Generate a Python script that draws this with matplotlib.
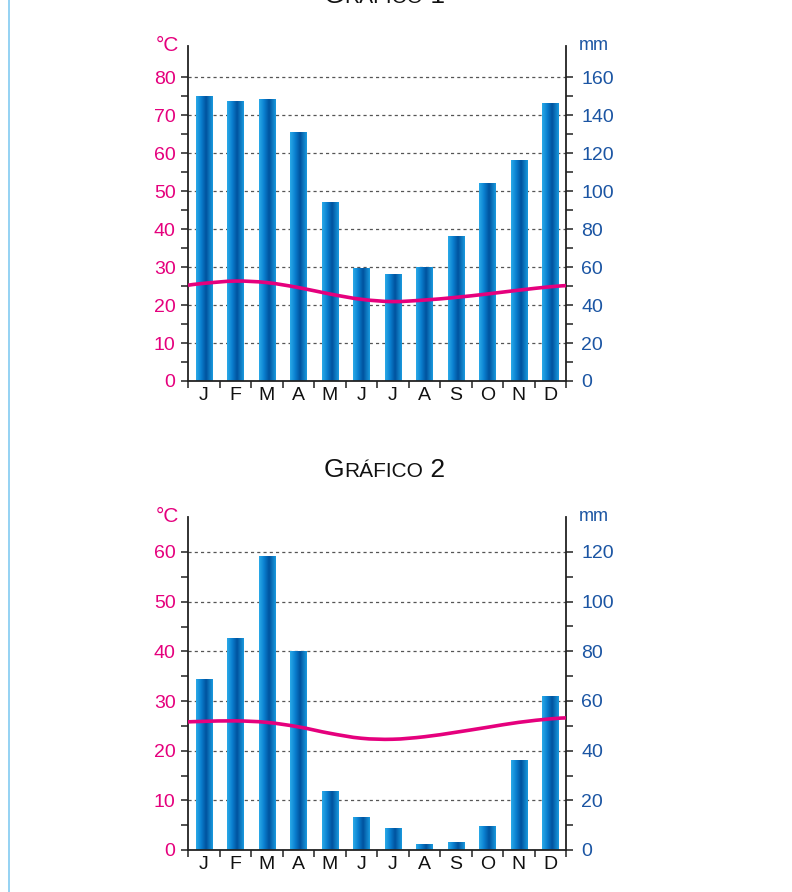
import numpy as np
import matplotlib.pyplot as plt
from matplotlib.path import Path
from matplotlib.patches import PathPatch
from matplotlib.colors import LinearSegmentedColormap
from matplotlib.lines import Line2D
from matplotlib.ticker import FixedLocator

plt.rcParams['font.family'] = ['Liberation Sans', 'DejaVu Sans']

# meses do ano
meses = ['J', 'F', 'M', 'A', 'M', 'J', 'J', 'A', 'S', 'O', 'N', 'D']

# Gráfico 1: precipitação (mm) e temperatura (°C)
prec1 = [150, 147, 148, 131, 94, 59, 56, 60, 76, 104, 116, 146]
temp1 = [25.7, 26.3, 25.9, 24.6, 22.9, 21.5, 20.9, 21.3, 22.0, 22.9, 23.9, 24.8]
temp1_bordas = [25.2, 25.1]   # valor da curva no início e no fim do eixo

# Gráfico 2
prec2 = [68.5, 85, 118, 80, 23.4, 12.9, 8.5, 2.4, 3.2, 9.3, 36.2, 62]
temp2 = [25.9, 26.0, 25.7, 24.8, 23.5, 22.5, 22.3, 22.8, 23.7, 24.7, 25.7, 26.4]
temp2_bordas = [25.8, 26.6]

MAGENTA = '#e5007d'
AZUL = '#1b55a3'
W, H = 792, 892

fig = plt.figure(figsize=(W / 100, H / 100), dpi=100)

# degradê das barras (efeito cilindro)
cm_barra = LinearSegmentedColormap.from_list(
    'barra', [(0, '#2aaae8'), (0.3, '#0a80d0'), (0.6, '#00529e'), (1, '#1a9ade')])
grad = np.linspace(0, 1, 64).reshape(1, -1)


def curva(ax, xs, ys, **kw):
    # curva suave (Catmull-Rom -> Bezier) passando pelos pontos lidos
    pts = np.column_stack([xs, ys])
    verts = [pts[0]]
    codes = [Path.MOVETO]
    n = len(pts)
    for i in range(n - 1):
        p0 = pts[i - 1] if i > 0 else pts[i]
        p1 = pts[i]
        p2 = pts[i + 1]
        p3 = pts[i + 2] if i + 2 < n else pts[i + 1]
        verts += [p1 + (p2 - p0) / 6, p2 - (p3 - p1) / 6, p2]
        codes += [Path.CURVE4] * 3
    ax.add_patch(PathPatch(Path(verts, codes), fill=False, **kw))


def climograma(y_base, y_topo, px_por_grau, prec, temp, bordas, tmax):
    rect = [188 / W, 1 - y_base / H, 378 / W, (y_base - y_topo) / H]
    ax = fig.add_axes(rect)
    ax2 = ax.twinx()
    ax.set_zorder(2)
    ax.patch.set_visible(False)

    topo = (y_base - y_topo) / px_por_grau
    x = np.arange(12)

    # barras de precipitação no eixo da direita
    largura = 0.51
    barras = ax2.bar(x, prec, width=largura, color='#0a78c4', zorder=2)
    for b in barras:
        x0, h = b.get_x(), b.get_height()
        ax2.imshow(grad, extent=(x0, x0 + largura, 0, h), aspect='auto',
                   cmap=cm_barra, interpolation='bilinear', zorder=3)

    # linha de temperatura no eixo da esquerda
    xs = [-0.5] + list(x) + [11.5]
    ys = [bordas[0]] + list(temp) + [bordas[1]]
    curva(ax, xs, ys, edgecolor=MAGENTA, lw=2.6, capstyle='butt', zorder=4)

    ax.set_xlim(-0.5, 11.5)
    ax.set_ylim(0, topo)
    ax2.set_ylim(0, 2 * topo)

    # eixo esquerdo (°C)
    ax.yaxis.set_major_locator(FixedLocator(np.arange(0, tmax + 1, 10)))
    ax.yaxis.set_minor_locator(FixedLocator(np.arange(5, tmax, 10)))
    ax.tick_params(axis='y', which='both', direction='out', length=5, width=1.1,
                   color='#222222', labelcolor=MAGENTA, labelsize=14, pad=4)

    # eixo direito (mm)
    ax2.yaxis.set_major_locator(FixedLocator(np.arange(0, 2 * tmax + 1, 20)))
    ax2.yaxis.set_minor_locator(FixedLocator(np.arange(10, 2 * tmax, 20)))
    ax2.tick_params(axis='y', which='both', direction='out', length=5, width=1.1,
                    color='#222222', labelcolor=AZUL, labelsize=14, pad=6)

    # meses
    ax.set_xticks(x)
    ax.set_xticklabels(meses)
    ax.set_xticks(np.arange(-0.5, 12, 1), minor=True)
    ax.tick_params(axis='x', which='major', length=0, labelsize=14, pad=4,
                   labelcolor='#111111')
    ax.tick_params(axis='x', which='minor', direction='out', length=5, width=1.1,
                   color='#222222')

    # linhas de grade tracejadas
    ax2.set_axisbelow(True)
    ax2.yaxis.grid(True, which='major', linestyle=(0, (2.5, 2.5)),
                   color='#555555', lw=0.9)

    for s in ['top', 'right']:
        ax.spines[s].set_visible(False)
    for s in ['top', 'left', 'bottom']:
        ax2.spines[s].set_visible(False)
    for sp in [ax.spines['left'], ax.spines['bottom'], ax2.spines['right']]:
        sp.set_linewidth(1.3)
        sp.set_color('#222222')

    # unidades
    fig.text(156 / W, 1 - (y_topo + 5) / H, '°C', color=MAGENTA, fontsize=15,
             va='baseline')
    fig.text(579 / W, 1 - (y_topo + 4) / H, 'mm', color=AZUL, fontsize=13,
             va='baseline')
    return ax


def titulo(y_px, numero):
    # versalete: letra inicial maior, restante menor
    partes = [('G', 19), ('RÁFICO', 15), (' ' + numero, 19)]
    textos = [fig.text(0, 1 - y_px / H, s, fontsize=fs, va='baseline',
                       ha='left', color='#111111') for s, fs in partes]
    fig.canvas.draw()
    r = fig.canvas.get_renderer()
    larguras = [t.get_window_extent(r).width for t in textos]
    xp = 384 - sum(larguras) / 2
    for t, w in zip(textos, larguras):
        t.set_x(xp / W)
        xp += w


climograma(381, 46, 3.8, prec1, temp1, temp1_bordas, 80)
climograma(850, 517, 298 / 60, prec2, temp2, temp2_bordas, 60)

# o título do gráfico 1 aparece cortado na borda superior, como no original
titulo(3, '1')
titulo(477, '2')

# linha azul clara da margem esquerda
fig.add_artist(Line2D([8.5 / W, 8.5 / W], [0, 1], transform=fig.transFigure,
                      color='#8ccff2', lw=1.3))

fig.savefig('out.png', dpi=100)
